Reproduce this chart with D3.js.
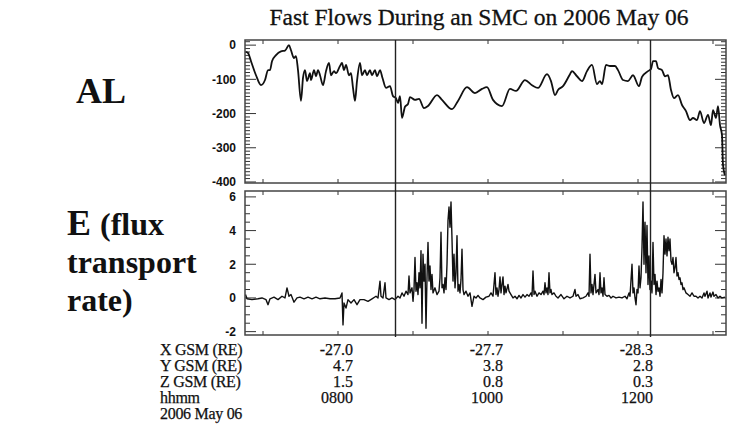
<!DOCTYPE html>
<html><head><meta charset="utf-8">
<script src="https://cdn.jsdelivr.net/npm/d3@7/dist/d3.min.js"></script>
<style>
body{margin:0;background:#fff;}
svg{display:block;}
</style></head>
<body><svg id="chart" width="731" height="425"></svg>
<script>
// ---- DATA (time in minutes since 00:00 UT, 2006 May 06) ----
const titleText = "Fast Flows During an SMC on 2006 May 06";
const alSeries = [
[406,-20],[408,-23],[410.4,-47],[414.4,-88],[418.4,-117],[421.6,-102],[424,-73],[425.6,-73],[427.2,-47],[430.4,-29],
[434.4,-18],[437.6,-16],[440.8,0],[442.4,-15],[444.8,-38],[446.4,-32],[448,-73],[450.4,-163],[452,-96],[453.6,-73],
[455.2,-105],[457.6,-82],[458.4,-102],[460.8,-73],[462.4,-91],[464,-73],[465.6,-88],[468,-117],[470.4,-76],[472.8,-52],
[474.4,-88],[476.8,-76],[478.4,-82],[481.6,-61],[483.2,-52],[484.8,-73],[486.4,-58],[488.8,-88],[490.4,-82],[492,-125],
[493.6,-163],[495.2,-105],[497.6,-52],[499.2,-88],[501.6,-73],[503.2,-88],[505.6,-73],[507.2,-88],[509.6,-73],[511.2,-91],
[513.6,-73],[515.6,-96],[518.4,-125],[521.6,-120],[524,-149],[526.4,-155],[528,-169],[529.6,-149],[531.2,-213],[533.6,-180],
[536,-172],[537.6,-152],[541.6,-160],[544.8,-157],[548.8,-184],[552,-178],[559.2,-146],[563.2,-160],[571.2,-187],[576,-163],
[583.2,-123],[589.6,-140],[595.2,-128],[599.2,-123],[604,-160],[611.2,-178],[617.6,-128],[622.4,-134],[629.6,-102],[635.2,-117],
[640,-125],[647.2,-85],[650.4,-105],[653.6,-146],[656,-131],[660,-120],[665.6,-85],[667.2,-76],[671.2,-91],[675.2,-105],
[679.2,-76],[683.2,-58],[687.2,-114],[689.6,-105],[691.2,-114],[694.4,-58],[697.6,-61],[701.6,-61],[704,-73],[708,-102],
[712,-105],[716,-88],[720.8,-120],[723.2,-93],[728,-76],[730.4,-70],[732,-47],[734.4,-47],[736,-67],[739.2,-73],
[741.6,-91],[744,-88],[746.4,-131],[748.8,-155],[752,-146],[755.2,-175],[758.4,-193],[761.6,-219],[764,-213],[767.2,-219],
[769.6,-193],[772.8,-228],[776,-204],[778.4,-234],[780,-190],[782.4,-213],[784,-178],[785.6,-234],[787.2,-263],[788,-350],
[789.6,-380]
];
const eSeries = [
[406,0.2],[407.2,-0.05],[411.2,-0.1],[416,-0.05],[419.2,0],[422.4,-0.1],[424,-0.4],[425.6,-0.05],[428.8,0.05],[432,-0.1],
[435.2,0.1],[437.6,0],[439.2,0.6],[440.8,0.1],[442.4,0.2],[444.8,-0.25],[447.2,0],[449.6,0.05],[452.8,-0.05],[456,0.05],
[459.2,-0.05],[462.4,0.05],[465.6,-0.05],[469.6,0],[473.6,-0.05],[477.6,-0.05],[481.6,0],[483.2,0.3],[484,-1.6],[484.8,-0.3],
[486.4,-0.6],[488,-0.1],[490.4,-0.3],[492.8,-0.1],[495.2,-0.4],[497.6,-0.1],[500.8,-0.1],[504,-0.2],[507.2,-0.05],[510.4,0.1],
[512,0],[513.6,1.0],[514.4,0.1],[516,0],[517.6,0.9],[518.4,0],[520.8,-0.1],[523.2,0],[525.6,-0.1],[528,0.1],
[529.6,0],[531.2,0.3],[532.8,0.1],[534.4,0.4],[536,0.2],[536.8,1.3],[537.6,0.3],[539.2,0.6],[540,-0.2],[540.8,0.5],
[541.6,2.4],[542.4,0.4],[543.2,0.9],[544,0.2],[544.8,1.5],[545.6,0.6],[546.4,2.8],[547.2,-1.5],[548,2.6],[548.8,1.0],
[549.6,2.0],[550.4,-1.8],[551.2,1.2],[552,3.3],[552.8,1.0],[553.6,1.9],[554.4,0.5],[555.2,1.4],[556,0.3],[557.6,0.6],
[559.2,0.2],[560.8,0.4],[561.6,1.2],[562.4,3.9],[563.2,0.6],[564,0.8],[564.8,0.3],[565.6,1.2],[566.4,0.5],[567.2,2.0],
[568,4.6],[568.8,5.4],[569.6,4.2],[570.4,5.7],[571.2,3.5],[572,1.0],[572.8,2.6],[573.6,0.6],[574.4,1.5],[575.2,3.7],
[576,0.4],[576.8,0.8],[577.6,0.3],[578.4,1.1],[579.2,2.9],[580,0.5],[580.8,0.2],[582.4,0.4],[584,0.1],[585.6,0.3],
[587.2,-0.5],[588.8,0.1],[590.4,0],[592,0.15],[593.6,0],[596,-0.1],[598.4,0.05],[600.8,0.1],[602.4,0.3],[604,0.1],
[605.6,1.5],[606.4,0.2],[607.2,0.6],[608,0.1],[608.8,0.5],[609.6,1.25],[610.4,0.3],[611.2,0.8],[612,1.25],[612.8,0.2],
[613.6,0.7],[614.4,0.3],[616,0.8],[616.8,0.4],[618.4,0.2],[620,0],[621.6,0.1],[623.2,-0.05],[624.8,0.15],[626.4,0],
[628,0.2],[629.6,0.05],[631.2,0.2],[632.8,0.1],[634.4,0.3],[635.2,0.1],[636,1.6],[636.8,0.2],[637.6,0.4],[639.2,0.1],
[640.8,0.3],[642.4,0.2],[644,0.4],[644.8,0.2],[645.6,0.9],[646.4,0.3],[647.2,0.6],[648,0.2],[648.8,1.5],[649.6,0.3],
[650.4,0.5],[651.2,0.2],[652.8,0.3],[654.4,0.1],[656,0],[658.4,0.2],[660.8,-0.05],[663.2,0.1],[665.6,0],[668,0.1],
[669.6,0.5],[670.4,0.1],[672,0.2],[673.6,-0.05],[676,0],[678.4,0.1],[680,0.3],[680.8,0.1],[681.6,2.6],[682.4,0.3],
[683.2,0.8],[684,0.2],[685.6,1.4],[686.4,0.3],[688,0.5],[688.8,0.2],[689.6,1.5],[690.4,0.3],[691.2,0.6],[692,0.1],
[692.8,1.2],[693.6,0.2],[695.2,0.1],[696.8,0.15],[698.4,0],[700,0.1],[702.4,0],[704.8,0.05],[707.2,0],[709.6,0.1],
[711.2,-0.05],[712.8,0.3],[713.6,0.1],[715.2,2.0],[716,0.3],[716.8,0.6],[717.6,0],[718.4,-0.4],[719.2,0.5],[720,0.3],
[720.8,1.9],[721.6,0.6],[722.4,1.2],[723.2,3.0],[724,5.7],[724.8,2.0],[725.6,4.5],[726.4,1.5],[727.2,4.3],[728,0.8],
[728.8,2.5],[729.6,0.5],[730.4,1.0],[731.2,0.3],[732,3.3],[732.8,0.8],[733.6,1.4],[734.4,0.2],[735.2,1.0],[736,0.4],
[736.8,0.6],[737.6,0.1],[738.4,1.1],[739.2,0.3],[740,1.5],[740.8,3.7],[741.6,2.6],[742.4,3.5],[743.2,2.5],[744,3.6],
[744.8,2.8],[745.6,3.5],[746.4,2.2],[747.2,2.0],[748,2.4],[748.8,1.5],[749.6,1.8],[750.4,2.4],[751.2,1.3],[752,1.5],
[752.8,1.1],[753.6,1.2],[754.4,0.8],[755.2,0.9],[756,0.5],[756.8,0.6],[758.4,0.3],[760,0.2],[761.6,0.1],[763.2,0.3],
[764.8,0.1],[766.4,0.1],[768,0],[769.6,0.1],[771.2,0],[772.8,0.3],[773.6,0.1],[775.2,0.4],[776,0],[777.6,0.3],
[778.4,0.05],[780,0.35],[780.8,0.1],[782.4,0.2],[784,0],[785.6,0.1],[787.2,0],[789.6,0.05]
];
const eventTimes = [526, 730];           // vertical marker lines
const hourTicks = [420, 480, 540, 600, 660, 720, 780];
const labelTimes = [480, 600, 720];
const rowNames = ["X GSM (RE)", "Y GSM (RE)", "Z GSM (RE)", "hhmm", "2006 May 06"];
const xGsm = ["-27.0", "-27.7", "-28.3"];
const yGsm = ["4.7", "3.8", "2.8"];
const zGsm = ["1.5", "0.8", "0.3"];
const hhmm = ["0800", "1000", "1200"];
const alTicks = [0, -100, -200, -300, -400];
const eTicks = [6, 4, 2, 0, -2];

// ---- LAYOUT ----
const svg = d3.select("#chart");
const X0 = 245, X1 = 726;
const top1 = 40, bot1 = 183, top2 = 191, bot2 = 335;
const x = d3.scaleLinear().domain([405.6, 790.4]).range([X0, X1]);
const yAL = d3.scaleLinear().domain([-403, 15]).range([bot1, top1]);
const yE = d3.scaleLinear().domain([-2.2, 6.35]).range([bot2, top2]);

svg.append("text").attr("x", 479).attr("y", 25).attr("text-anchor", "middle")
  .attr("font-family", "Liberation Serif, Times New Roman, serif").attr("font-size", 23.5)
  .attr("fill", "#111").attr("stroke", "#111").attr("stroke-width", 0.3).text(titleText);

function panel(y, ticks, minorStep, top, bot, series, sw, curve) {
  const g = svg.append("g");
  const tickFmt = d => String(d);
  const left = d3.axisLeft(y).tickValues(ticks).tickSize(0).tickPadding(9).tickFormat(tickFmt);
  const ga = g.append("g").attr("transform", `translate(${X0},0)`).call(left);
  ga.select(".domain").remove();
  ga.selectAll("text").attr("font-family", "Liberation Sans, Arial, sans-serif")
    .attr("font-weight", "bold").attr("font-size", 12).attr("fill", "#111");
  const dom = y.domain();
  const minors = d3.range(Math.ceil(dom[0] / minorStep) * minorStep, dom[1] + 1e-9, minorStep);
  const isMajor = v => ticks.some(t => Math.abs(t - v) < 1e-6);
  const tg = g.append("g").attr("stroke", "#333").attr("stroke-width", 1);
  minors.forEach(v => {
    const L = isMajor(v) ? 11 : 5;
    tg.append("line").attr("x1", X0).attr("x2", X0 + L).attr("y1", y(v)).attr("y2", y(v));
    tg.append("line").attr("x1", X1).attr("x2", X1 - L).attr("y1", y(v)).attr("y2", y(v));
  });
  hourTicks.forEach(t => {
    tg.append("line").attr("x1", x(t)).attr("x2", x(t)).attr("y1", top).attr("y2", top + 4);
    tg.append("line").attr("x1", x(t)).attr("x2", x(t)).attr("y1", bot).attr("y2", bot - 4);
  });
  const clipId = "clip" + top;
  svg.append("clipPath").attr("id", clipId).append("rect")
    .attr("x", X0).attr("y", top).attr("width", X1 - X0).attr("height", bot - top);
  const line = d3.line().x(d => x(d[0])).y(d => y(d[1])).curve(curve);
  g.append("path").datum(series).attr("d", line).attr("fill", "none")
    .attr("stroke", "#111").attr("stroke-width", sw).attr("stroke-linejoin", "round")
    .attr("clip-path", `url(#${clipId})`);
  g.append("rect").attr("x", X0).attr("y", top).attr("width", X1 - X0).attr("height", bot - top)
    .attr("fill", "none").attr("stroke", "#444").attr("stroke-width", 1.5);
}
panel(yAL, alTicks, 10, top1, bot1, alSeries, 1.8, d3.curveMonotoneX);
panel(yE, eTicks, 0.5, top2, bot2, eSeries, 1.4, d3.curveLinear);

// event lines
eventTimes.forEach(t => {
  svg.append("line").attr("x1", x(t)).attr("x2", x(t)).attr("y1", top1).attr("y2", bot2 + 2)
    .attr("stroke", "#222").attr("stroke-width", 1.4);
});

// left labels
const lab = svg.append("g").attr("font-family", "Liberation Serif, Times New Roman, serif")
  .attr("font-weight", "bold").attr("fill", "#111");
lab.append("text").attr("x", 76).attr("y", 103).attr("font-size", 36).text("AL");
const eL = lab.append("text").attr("x", 67).attr("y", 235);
eL.append("tspan").attr("font-size", 36).text("E ");
eL.append("tspan").attr("font-size", 32).text("(flux");
lab.append("text").attr("x", 67).attr("y", 273).attr("font-size", 32).text("transport");
lab.append("text").attr("x", 67).attr("y", 311).attr("font-size", 32).text("rate)");

// bottom annotation table
const tb = svg.append("g").attr("font-family", "Liberation Serif, Times New Roman, serif")
  .attr("font-size", 16).attr("fill", "#111").attr("stroke", "#111").attr("stroke-width", 0.25);
const rowY = [355, 371, 387, 403, 419];
rowNames.forEach((n, i) => {
  tb.append("text").attr("x", 160).attr("y", rowY[i]).attr("letter-spacing", -0.3).text(n);
});
[xGsm, yGsm, zGsm, hhmm].forEach((row, i) => {
  row.forEach((v, j) => {
    tb.append("text").attr("x", x(labelTimes[j]) + 15).attr("y", rowY[i])
      .attr("text-anchor", "end").text(v);
  });
});
</script>
</body></html>
